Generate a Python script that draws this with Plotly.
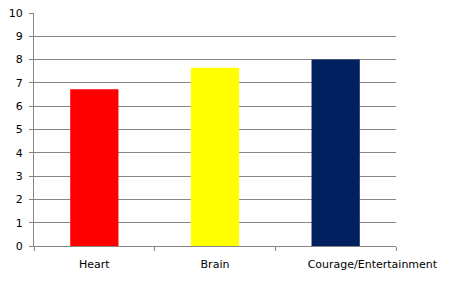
import plotly.graph_objects as go

categories = ["Heart", "Brain", "Courage/Entertainment"]
values = [6.73, 7.65, 8.0]
colors = ["#FF0000", "#FFFF00", "#002060"]
y_ticks = list(range(0, 11))
# Excel shifts the long last label to the right; emulate with leading non-breaking spaces
tick_text = ["Heart", "Brain", "\u00a0" * 21 + "Courage/Entertainment"]

fig = go.Figure(go.Bar(x=categories, y=values, marker=dict(color=colors, line=dict(width=0)), width=0.4))

axis_color = "#868686"
font = dict(family="DejaVu Sans, Verdana, sans-serif", size=11, color="#000000")

fig.update_layout(
    width=458, height=291,
    margin=dict(l=34, r=62, t=13, b=45),
    paper_bgcolor="white", plot_bgcolor="white",
    showlegend=False,
    font=font,
    bargap=0.6,
)
fig.update_yaxes(
    range=[0, 10], tickvals=y_ticks, showgrid=True, gridcolor=axis_color, gridwidth=1,
    showline=True, linecolor=axis_color, linewidth=1,
    ticks="outside", ticklen=4, tickcolor=axis_color, zeroline=False,
    tickfont=dict(size=11), ticklabelstandoff=4, automargin=False,
)
fig.update_xaxes(
    showline=True, linecolor=axis_color, linewidth=1,
    ticks="outside", ticklen=4, tickcolor=axis_color, tickson="boundaries",
    tickmode="array", tickvals=categories, ticktext=tick_text,
    tickfont=dict(size=11), showgrid=False, ticklabelstandoff=8,
    tickangle=0, automargin=False,
)

fig.write_html("out.html")
